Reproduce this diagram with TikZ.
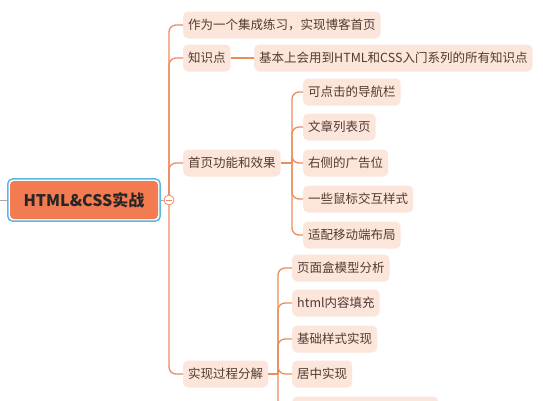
\documentclass[tikz,border=0pt]{standalone}
\usepackage{fontspec}
\setmainfont{Noto Sans CJK SC}
\usetikzlibrary{positioning, fit}
\definecolor{cline}{HTML}{EE8C5E}
\definecolor{cbox}{HTML}{FCE6DC}
\definecolor{ctext}{HTML}{523A30}
\definecolor{croot}{HTML}{F37B51}
\definecolor{csel}{HTML}{5BB8E6}
\definecolor{cgrey}{HTML}{B8A49A}
\tikzset{
  every picture/.style={x=1pt, y=-1pt},
  topic/.style={fill=cbox, text=ctext, rounded corners=5pt, anchor=west, inner xsep=5pt,
    minimum height=27pt, font=\fontsize{12.5}{14}\selectfont},
  branch/.style={draw=cline, line width=1.3pt, rounded corners=7pt},
  roottopic/.style={fill=croot, text=black!85, rounded corners=4pt, minimum width=148pt,
    minimum height=38pt, font=\fontsize{16}{18}\selectfont\bfseries},
}

\begin{document}
\begin{tikzpicture}
  \useasboundingbox (0,0) rectangle (543,400);
  \fill[white] (0,0) rectangle (543,400);
  \clip (0,0) rectangle (543,400);

  % central topic
  \node[roottopic] (root) at (84,200) {HTML\&CSS实战};
  \node[draw=csel, line width=1.5pt, rounded corners=5pt, inner sep=2pt, fit=(root)] (rootsel) {};
  \coordinate (rootin) at (0,200);
  \draw[cgrey, line width=1pt] (rootin) -- (rootsel.west);
  \coordinate (fold) at (169,200);

  % first level
  \node[topic] (goal) at (183,25) {作为一个集成练习，实现博客首页};
  \node[topic] (know) at (183,58) {知识点};
  \node[topic] (home) at (183,163) {首页功能和效果};
  \node[topic] (steps) at (183,374) {实现过程分解};
  \node[topic] (knowall) at (254,58) {基本上会用到HTML和CSS入门系列的所有知识点};

  \foreach \n in {goal, know, home, steps}
    \draw[branch] (fold) |- (\n.west);
  \draw[branch] (know.east) -- (knowall.west);

  % fold button on the trunk
  \node[circle, draw=cline, fill=white, line width=0.8pt, minimum size=10pt, inner sep=0pt] (foldbtn) at (fold) {};
  \draw[cline, line width=0.8pt] ([xshift=-3pt]foldbtn.center) -- ([xshift=3pt]foldbtn.center);
  \draw[cgrey, line width=1pt] (rootsel.east) -- (foldbtn.west);

  % home page features
  \node[topic] (nav) at (303,92) {可点击的导航栏};
  \node[topic] (list) at (303,127) {文章列表页};
  \node[topic] (ads) at (303,163) {右侧的广告位};
  \node[topic] (hover) at (303,199) {一些鼠标交互样式};
  \node[topic] (mobile) at (303,235) {适配移动端布局};
  \coordinate (homefork) at (292,163);
  \draw[branch] (home.east) -- (homefork);
  \foreach \n in {nav, list, ads, hover, mobile}
    \draw[branch] (homefork) |- (\n.west);

  % implementation steps
  \node[topic] (boxmodel) at (292,268) {页面盒模型分析};
  \node[topic] (html) at (292,303) {html内容填充};
  \node[topic] (basic) at (292,339) {基础样式实现};
  \node[topic] (center) at (292,374) {居中实现};
  \node[topic, minimum width=146pt] (more) at (292,410) {};
  \coordinate (stepsfork) at (278,374);
  \draw[branch] (steps.east) -- (stepsfork);
  \foreach \n in {boxmodel, html, basic, center, more}
    \draw[branch] (stepsfork) |- (\n.west);
\end{tikzpicture}
\end{document}
